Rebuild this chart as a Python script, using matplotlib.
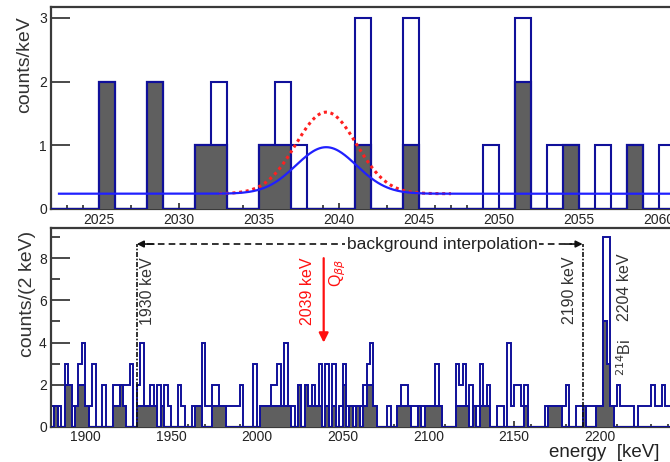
import numpy as np
import matplotlib
matplotlib.use('Agg')
import matplotlib.pyplot as plt
from matplotlib.ticker import MultipleLocator

plt.rcParams['font.family'] = ['Liberation Sans', 'DejaVu Sans']

# top panel: 1 keV bins around Q_bb, events per bin
top_e_all = [2025, 2028, 2031, 2032, 2035, 2036, 2037, 2041, 2044, 2049, 2051, 2053, 2054, 2056, 2058, 2060]
top_n_all = [2, 2, 1, 2, 1, 2, 1, 3, 3, 1, 3, 1, 1, 1, 1, 1]
top_e_psd = [2025, 2028, 2031, 2032, 2035, 2036, 2041, 2044, 2051, 2054, 2058]
top_n_psd = [2, 2, 1, 1, 1, 1, 1, 1, 2, 1, 1]

# fit curves (flat background + gaussian at Q_bb)
bkg_level = 0.24
q_bb = 2039.2
sigma = 1.9
amp_best = 0.73
amp_limit = 1.28

# bottom panel: 2 keV bins starting at 1880
bot_start = 1880
bot_all = [
    1, 1, 1, 0, 3, 2, 1, 1, 3, 4,
    1, 1, 3, 0, 0, 2, 0, 0, 2, 2,
    2, 2, 2, 3, 0, 2, 4, 1, 1, 2,
    1, 2, 1, 2, 1, 0, 0, 2, 1, 0,
    0, 1, 1, 1, 4, 1, 1, 2, 2, 1,
    1, 1, 1, 1, 1, 2, 0, 0, 0, 3,
    0, 1, 1, 1, 2, 2, 3, 1, 4, 1,
    1, 0, 2, 0, 2, 1, 2, 1, 3, 0,
    3, 0, 3, 0, 1, 3, 1, 1, 1, 1,
    1, 2, 3, 4, 1, 0, 0, 0, 1, 0,
    0, 1, 2, 2, 1, 1, 1, 1, 1, 1,
    1, 1, 3, 1, 0, 0, 0, 0, 3, 2,
    3, 1, 2, 1, 1, 3, 1, 2, 0, 0,
    1, 1, 0, 4, 1, 2, 2, 1, 2, 0,
    0, 0, 0, 0, 1, 1, 1, 1, 1, 1,
    2, 0, 0, 1, 1, 1, 1, 1, 1, 1,
    1, 9, 9, 1, 1, 2, 1, 1, 1, 1,
    0, 1, 1, 1, 1, 2, 1, 1, 2, 1, 1,
]
bot_psd = [
    0, 1, 0, 0, 2, 2, 0, 1, 2, 2,
    1, 0, 0, 0, 0, 0, 0, 0, 1, 1,
    2, 1, 0, 0, 0, 1, 1, 1, 1, 1,
    1, 0, 1, 0, 0, 0, 0, 0, 0, 0,
    0, 0, 1, 1, 0, 0, 0, 1, 1, 1,
    1, 0, 0, 0, 0, 0, 0, 0, 0, 0,
    0, 1, 1, 1, 1, 1, 1, 1, 1, 1,
    0, 0, 2, 0, 2, 1, 1, 1, 1, 0,
    1, 0, 1, 0, 0, 2, 0, 1, 0, 1,
    0, 1, 2, 2, 1, 0, 0, 0, 0, 0,
    0, 1, 1, 1, 1, 0, 0, 1, 0, 1,
    1, 1, 1, 1, 0, 0, 0, 0, 1, 1,
    1, 1, 0, 1, 0, 1, 1, 1, 0, 0,
    0, 0, 0, 0, 0, 0, 0, 0, 1, 0,
    0, 0, 0, 0, 0, 1, 1, 1, 1, 0,
    0, 0, 0, 0, 0, 1, 0, 0, 0, 1,
    1, 5, 3, 1, 0, 0, 0, 0, 0, 0,
    0, 0, 0, 0, 0, 0, 0, 0, 0, 0, 0,
]

navy = '#10109a'
gray = '#5f5f5f'
frame = '#3a3a3a'
txt = '#222222'

W, H = 670, 462
def px_axes(x0, y_top, x1, y_bot):
    return [x0 / W, 1 - y_bot / H, (x1 - x0) / W, (y_bot - y_top) / H]

fig = plt.figure(figsize=(6.7, 4.62), dpi=100)
ax1 = fig.add_axes(px_axes(51, 7, 51 + 40 * 16, 209))
ax2 = fig.add_axes(px_axes(51, 228, 51 + 370 * 1.715, 427))

# ---- top panel
edges1 = np.arange(2022, 2063)
h_all = np.zeros(len(edges1) - 1)
h_psd = np.zeros(len(edges1) - 1)
for e, n in zip(top_e_all, top_n_all):
    h_all[e - 2022] = n
for e, n in zip(top_e_psd, top_n_psd):
    h_psd[e - 2022] = n
ax1.stairs(h_all, edges1, color=navy, lw=1.5, zorder=2)
ax1.stairs(h_psd, edges1, fill=True, facecolor=gray, edgecolor=navy, lw=1.5, zorder=3)
ax1.stairs(h_psd, edges1, color=navy, lw=1.5, zorder=3)

xs = np.linspace(2022.5, 2062, 600)
g = np.exp(-(xs - q_bb) ** 2 / (2 * sigma ** 2))
xr = np.linspace(2032.5, 2047, 300)
gr = np.exp(-(xr - q_bb) ** 2 / (2 * sigma ** 2))
ax1.plot(xr, bkg_level + amp_limit * gr, color='#ff2020', ls=(0, (1, 1.2)), lw=2.2, zorder=4)
ax1.plot(xs, bkg_level + amp_best * g, color='#2020ff', lw=1.6, zorder=5)

ax1.set_xlim(2022, 2062)
ax1.set_ylim(0, 3.17)
ax1.xaxis.set_major_locator(MultipleLocator(5))
ax1.xaxis.set_minor_locator(MultipleLocator(1))
ax1.yaxis.set_major_locator(MultipleLocator(1))
ax1.tick_params(axis='y', which='major', direction='in', length=13.5, width=1.3, color=frame,
                labelsize=10, pad=3, labelcolor=txt)
ax1.tick_params(axis='x', which='major', direction='in', length=4.5, width=1.3, color=frame,
                labelsize=10, pad=3, labelcolor=txt)
ax1.tick_params(axis='x', which='minor', direction='in', length=2.8, width=1.3, color=frame)

# ---- bottom panel
edges2 = bot_start + 2 * np.arange(len(bot_all) + 1)
ax2.stairs(bot_all, edges2, color=navy, lw=1.4, zorder=2)
ax2.stairs(bot_psd, edges2, fill=True, facecolor=gray, edgecolor=navy, lw=1.4, zorder=3)
ax2.stairs(bot_psd, edges2, color=navy, lw=1.4, zorder=3)

ax2.set_xlim(1880, 2250)
ax2.set_ylim(0, 9.43)
ax2.xaxis.set_major_locator(MultipleLocator(50))
ax2.xaxis.set_minor_locator(MultipleLocator(10))
ax2.yaxis.set_major_locator(MultipleLocator(2))
ax2.yaxis.set_minor_locator(MultipleLocator(1))
ax2.tick_params(axis='y', which='major', direction='in', length=13.5, width=1.3, color=frame,
                labelsize=10, pad=3, labelcolor=txt)
ax2.tick_params(axis='y', which='minor', direction='in', length=6.5, width=1.3, color=frame)
ax2.tick_params(axis='x', which='major', direction='in', length=4, width=1.3, color=frame,
                labelsize=10, pad=2, labelcolor=txt)
ax2.tick_params(axis='x', which='minor', direction='in', length=2, width=1.3, color=frame)

for ax in (ax1, ax2):
    for s in ax.spines.values():
        s.set_color(frame)
        s.set_linewidth(1.6)

# background window
y_arr = 8.67
for xv in (1930, 2190):
    ax2.plot([xv, xv], [0, y_arr], color='#111111', lw=1.2, ls=(0, (3, 1, 1, 1)), zorder=6)
ax2.plot([1936, 2184], [y_arr, y_arr], color='#111111', lw=1.2, ls=(0, (4, 2.5)), zorder=6)
ax2.annotate('', xy=(1930, y_arr), xytext=(1940, y_arr),
             arrowprops=dict(arrowstyle='-|>', color='#111111', lw=1.2, mutation_scale=10,
                             shrinkA=0, shrinkB=0), zorder=6)
ax2.annotate('', xy=(2190, y_arr), xytext=(2180, y_arr),
             arrowprops=dict(arrowstyle='-|>', color='#111111', lw=1.2, mutation_scale=10,
                             shrinkA=0, shrinkB=0), zorder=6)
ax2.text(2108, y_arr, 'background interpolation', fontsize=12.5, ha='center', va='center',
         color=txt, bbox=dict(facecolor='white', edgecolor='none', pad=1), zorder=7)

ax2.text(1936, 8.05, '1930 keV', rotation=90, fontsize=11.5, ha='center', va='top', color='#333333')
ax2.text(2182.5, 8.1, '2190 keV', rotation=90, fontsize=11.5, ha='center', va='top', color='#333333')
ax2.text(2214.5, 8.2, '2204 keV', rotation=90, fontsize=11.5, ha='center', va='top', color='#333333')
ax2.text(2214.5, 4.2, r'$^{214}$Bi', rotation=90, fontsize=11.5, ha='center', va='top', color='#333333')

# Q_bb marker
ax2.annotate('', xy=(2039, 4.0), xytext=(2039, 8.0),
             arrowprops=dict(arrowstyle='-|>', color='#ff1010', lw=1.6, mutation_scale=14,
                             shrinkA=0, shrinkB=0), zorder=6)
ax2.text(2029.5, 8.05, '2039 keV', rotation=90, fontsize=11.5, ha='center', va='top', color='#ff1010')
ax2.text(2047, 8.0, r'Q$_{\beta\beta}$', rotation=90, fontsize=11.5, ha='center', va='top', color='#ff1010')

fig.text(25 / W, 1 - 16 / H, 'counts/keV', rotation=90, fontsize=14, ha='center', va='top', color='#333333')
fig.text(27 / W, 1 - 231 / H, 'counts/(2 keV)', rotation=90, fontsize=14, ha='center', va='top', color='#333333')
fig.text(549 / W, 1 - 457 / H, 'energy  [keV]', fontsize=13.5, ha='left', va='baseline', color=txt)

fig.savefig('out.png', dpi=100)
